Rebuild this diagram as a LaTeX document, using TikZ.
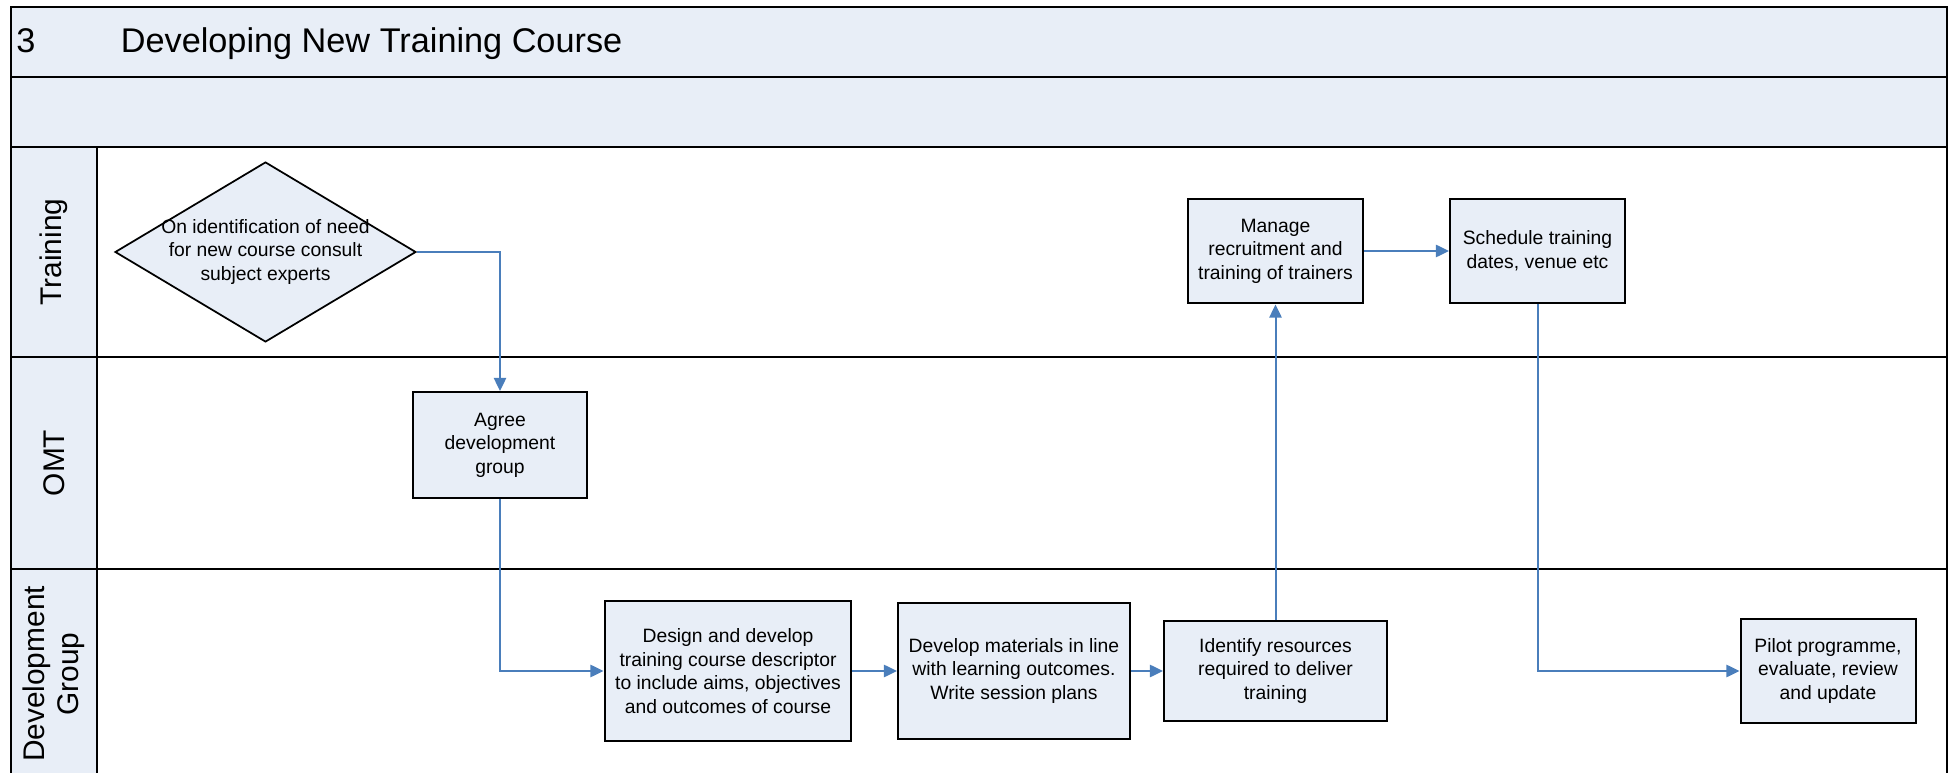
\documentclass[tikz,border=0pt]{standalone}
\usepackage{fontspec}
\setmainfont{Liberation Sans}
\usetikzlibrary{arrows.meta,shapes.geometric}
\definecolor{panefill}{RGB}{232,238,247}
\definecolor{flowblue}{RGB}{74,126,187}
\tikzset{
  procbox/.style={draw=black, line width=0.04cm, fill=panefill, align=center,
    inner sep=0pt, font=\fontsize{11}{13.4}\selectfont},
  decision/.style={draw=black, line width=0.035cm, fill=panefill, diamond,
    inner sep=0pt, minimum width=6.02cm, minimum height=3.6cm},
  boxtext/.style={align=center, inner sep=0pt, font=\fontsize{11}{13.4}\selectfont},
  flow/.style={draw=flowblue, line width=0.04cm,
    -{Triangle[length=7.5pt,width=7pt]}},
  frameline/.style={draw=black, line width=0.04cm},
  lanelabel/.style={rotate=90, align=center, font=\fontsize{17}{19.5}\selectfont},
}
\begin{document}
\begin{tikzpicture}[x=0.02cm, y=-0.02cm]
\useasboundingbox (0,0) rectangle (1955,773);

% header bands and lane header column
\fill[panefill] (11,7) rectangle (1947,147);
\fill[panefill] (11,147) rectangle (97,773);

% swimlane frame
\draw[frameline] (11,773) -- (11,7) -- (1947,7) -- (1947,773);
\draw[frameline] (11,77) -- (1947,77);
\draw[frameline] (11,147) -- (1947,147);
\draw[frameline] (11,357) -- (1947,357);
\draw[frameline] (11,569) -- (1947,569);
\draw[frameline] (97,147) -- (97,773);

% title
\node[anchor=base west, inner sep=0pt, font=\fontsize{19.5}{22}\selectfont] (num) at (16,53) {3};
\node[anchor=base west, inner sep=0pt, font=\fontsize{19.5}{22}\selectfont] (title) at (120.5,53) {Developing New Training Course};

% lane names
\node[lanelabel] (laneT) at (54,252) {Training};
\node[lanelabel] (laneO) at (54,463) {OMT};
\node[lanelabel] (laneD) at (54,674) {Development\\Group};

% process steps
\node[decision] (start) at (265.5,252) {};
\node[boxtext] (starttext) at (265.5,252) {On identification of need\\for new course consult\\subject experts};

\node[procbox, minimum width=3.5cm, minimum height=2.12cm] (agree) at (500,445)
  {Agree\\development\\group};
\node[procbox, minimum width=4.94cm, minimum height=2.8cm] (design) at (728,671)
  {Design and develop\\training course descriptor\\to include aims, objectives\\and outcomes of course};
\node[procbox, minimum width=4.64cm, minimum height=2.74cm] (develop) at (1014,671)
  {Develop materials in line\\with learning outcomes.\\Write session plans};
\node[procbox, minimum width=4.46cm, minimum height=2.02cm] (identify) at (1275.5,671)
  {Identify resources\\required to deliver\\training};
\node[procbox, minimum width=3.5cm, minimum height=2.1cm] (manage) at (1275.5,251)
  {Manage\\recruitment and\\training of trainers};
\node[procbox, minimum width=3.5cm, minimum height=2.1cm] (schedule) at (1537.5,251)
  {Schedule training\\dates, venue etc};
\node[procbox, minimum width=3.5cm, minimum height=2.1cm] (pilot) at (1828,671)
  {Pilot programme,\\evaluate, review\\and update};

% connectors
\draw[flow] (start.east) -| (agree.north);
\draw[flow] (agree.south) |- (design.west);
\draw[flow] (design.east) -- (develop.west);
\draw[flow] (develop.east) -- (identify.west);
\draw[flow] (identify.north) -- (manage.south);
\draw[flow] (manage.east) -- (schedule.west);
\draw[flow] (schedule.south) |- (pilot.west);
\end{tikzpicture}
\end{document}
